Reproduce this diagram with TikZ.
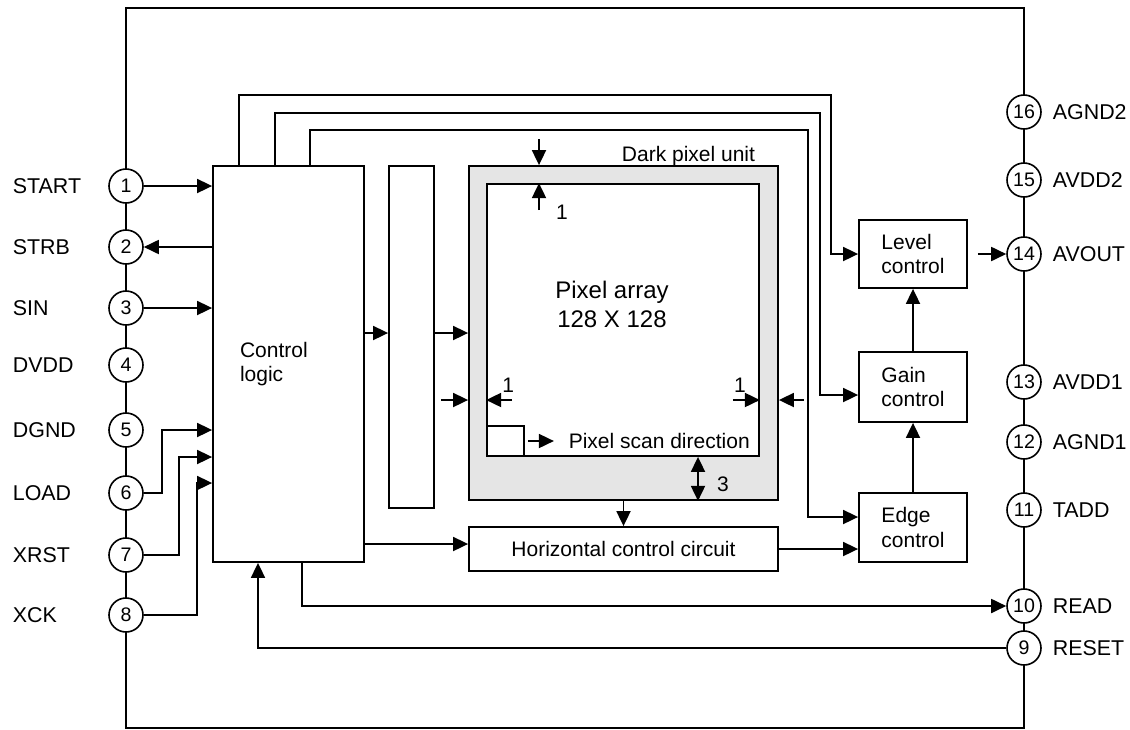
\documentclass[tikz,border=0pt]{standalone}
\usepackage{fontspec}
\setmainfont{Liberation Sans}
\usetikzlibrary{positioning, arrows.meta, calc}

\begin{document}
\begin{tikzpicture}[
  x=0.5pt, y=-0.5pt,
  font=\fontsize{10.5}{12.2}\selectfont,
  line width=0.9pt,
  block/.style={draw, inner sep=0pt, align=left},
  pad/.style={draw, circle, fill=white, line width=0.8pt, minimum size=17pt, inner sep=0pt, font=\fontsize{9.8}{11}\selectfont},
  padname/.style={anchor=west, inner sep=0pt, font=\fontsize{10.7}{12}\selectfont},
  lbl/.style={inner sep=0pt},
  >={Triangle[length=7.5pt, width=7pt]}
]
\useasboundingbox (0,0) rectangle (1130,729);
% --- package outline ---
\draw (126,8) rectangle (1024,728);

% --- blocks ---
\node[block, minimum width=75.5pt, minimum height=198pt] (ctrl) at (288.5,364) {};
\node[lbl, align=left, right=13.5pt of ctrl.west] {Control\\logic};
\node[block, minimum width=22.5pt, minimum height=171pt] (drv) at (411.5,337) {};
\node[block, fill=black!10, minimum width=154.5pt, minimum height=167pt] (dark) at (623.5,333) {};
\node[block, fill=white, minimum width=136pt, minimum height=136pt] (pix) at (623,320) {};
\node[block, minimum width=18.5pt, minimum height=15pt, anchor=south west] (scan) at (pix.south west) {};
\node[block, minimum width=154.5pt, minimum height=22pt] (hcc) at (623.5,549) {Horizontal control circuit};
\node[block, minimum width=54pt, minimum height=34pt] (level) at (913,254) {Level\\control};
\node[block, minimum width=54pt, minimum height=35pt] (gain) at (913,387) {Gain\\control};
\node[block, minimum width=54pt, minimum height=34.5pt] (edge) at (913,527.5) {Edge\\control};

% --- texts in the pixel area ---
\node[lbl, align=center, font=\fontsize{12}{14.5}\selectfont] at (612,304) {Pixel array\\128 X 128};
\node[lbl, anchor=base east] at ($(dark.north east)+(-23,-4)$) {Dark pixel unit};
\node[lbl, anchor=base west] at ($(scan.east)+(43,7)$) {Pixel scan direction};
\draw[->] ($(scan.east)+(3,0)$) -- ++(26,0);

% --- left pads ---
\node[pad] (p1) at (126,186) {1};
\node[pad] (p2) at (126,247) {2};
\node[pad] (p3) at (126,308) {3};
\node[pad] (p4) at (126,365) {4};
\node[pad] (p5) at (126,430) {5};
\node[pad] (p6) at (126,493) {6};
\node[pad] (p7) at (126,555) {7};
\node[pad] (p8) at (126,615) {8};
\node[padname] at ($(p1)+(-114,0)$) {START};
\node[padname] at ($(p2)+(-114,0)$) {STRB};
\node[padname] at ($(p3)+(-114,0)$) {SIN};
\node[padname] at ($(p4)+(-114,0)$) {DVDD};
\node[padname] at ($(p5)+(-114,0)$) {DGND};
\node[padname] at ($(p6)+(-114,0)$) {LOAD};
\node[padname] at ($(p7)+(-114,0)$) {XRST};
\node[padname] at ($(p8)+(-114,0)$) {XCK};

% --- right pads ---
\node[pad] (p16) at (1024,112) {16};
\node[pad] (p15) at (1024,180) {15};
\node[pad] (p14) at (1024,254) {14};
\node[pad] (p13) at (1024,382) {13};
\node[pad] (p12) at (1024,442) {12};
\node[pad] (p11) at (1024,510) {11};
\node[pad] (p10) at (1024,606) {10};
\node[pad] (p9) at (1024,648) {9};
\node[padname] at ($(p16)+(28,0)$) {AGND2};
\node[padname] at ($(p15)+(28,0)$) {AVDD2};
\node[padname] at ($(p14)+(28,0)$) {AVOUT};
\node[padname] at ($(p13)+(28,0)$) {AVDD1};
\node[padname] at ($(p12)+(28,0)$) {AGND1};
\node[padname] at ($(p11)+(28,0)$) {TADD};
\node[padname] at ($(p10)+(28,0)$) {READ};
\node[padname] at ($(p9)+(28,0)$) {RESET};

% pads -> control logic
\draw[->] (p1) -- (p1 -| ctrl.west);
\draw[->] (p2 -| ctrl.west) -- (p2);
\draw[->] (p3) -- (p3 -| ctrl.west);
\draw[->] (p6.east) -- ++(18,0) |- ($(ctrl.west)+(0,66)$);
\draw[->] (p7.east) -- ++(35,0) |- ($(ctrl.west)+(0,93)$);
\draw[->] (p8.east) -- ++(53,0) |- ($(ctrl.west)+(0,119)$);

% control lines over the top
\draw[->] ($(ctrl.north west)+(27,0)$) -- ++(0,-70) -| ($(level.west)+(-27,0)$) -- (level.west);
\draw[->] ($(ctrl.north west)+(63,0)$) -- ++(0,-52) -| ($(gain.west)+(-38,8)$) -- ($(gain.west)+(0,8)$);
\draw[->] ($(ctrl.north west)+(98,0)$) -- ++(0,-35) -| ($(edge.west)+(-50,-10.5)$) -- ($(edge.west)+(0,-10.5)$);

% control logic -> driver -> array
\coordinate (dk) at ($(ctrl.east)+(0,-31)$);
\draw[->] (dk) -- (dk -| drv.west);
\draw[->] (dk -| drv.east) -- (dk -| dark.west);
\coordinate (hk) at ($(hcc.west)+(0,-5)$);
\draw[->] (hk -| ctrl.east) -- (hk);
\draw[->] (dark) -- (hcc);
\draw[->] (hcc.east) -- (hcc.east -| edge.west);

% dark pixel margins
\coordinate (lout) at ($(dark.west)+(-27,67)$);
\draw[->] (lout) -- (lout -| dark.west);
\coordinate (rout) at ($(dark.east)+(25,67)$);
\draw[->] (rout) -- (rout -| dark.east);
\coordinate (lin) at ($(pix.west)+(26,80)$);
\draw[->] (lin) -- (lin -| pix.west);
\node[lbl] at ($(lin)+(-4,-15)$) {1};
\coordinate (rin) at ($(pix.east)+(-27,80)$);
\draw[->] (rin) -- (rin -| pix.east);
\node[lbl] at ($(rin)+(7,-15)$) {1};
\coordinate (tout) at ($(dark.north)+(-84.5,-26)$);
\draw[->] (tout) -- (tout |- dark.north);
\coordinate (tin) at ($(pix.north)+(-84,27)$);
\draw[->] (tin) -- (tin |- pix.north);
\node[lbl] at ($(tin)+(23,2)$) {1};
\draw[<->] ($(pix.south)+(75,0)$) -- ($(dark.south)+(74.5,0)$);
\node[lbl] at ($(dark.south)+(99.5,-17)$) {3};

% analog chain
\draw[->] (edge) -- (gain);
\draw[->] (gain) -- (level);
\coordinate (ok) at ($(level.east)+(10,0)$);
\draw[->] (ok) -- (p14);

% read / reset
\draw[->] ($(ctrl.south)+(13.5,0)$) |- (p10.west);
\draw[->] (p9.west) -| ($(ctrl.south)+(-30.5,0)$);
\end{tikzpicture}
\end{document}
